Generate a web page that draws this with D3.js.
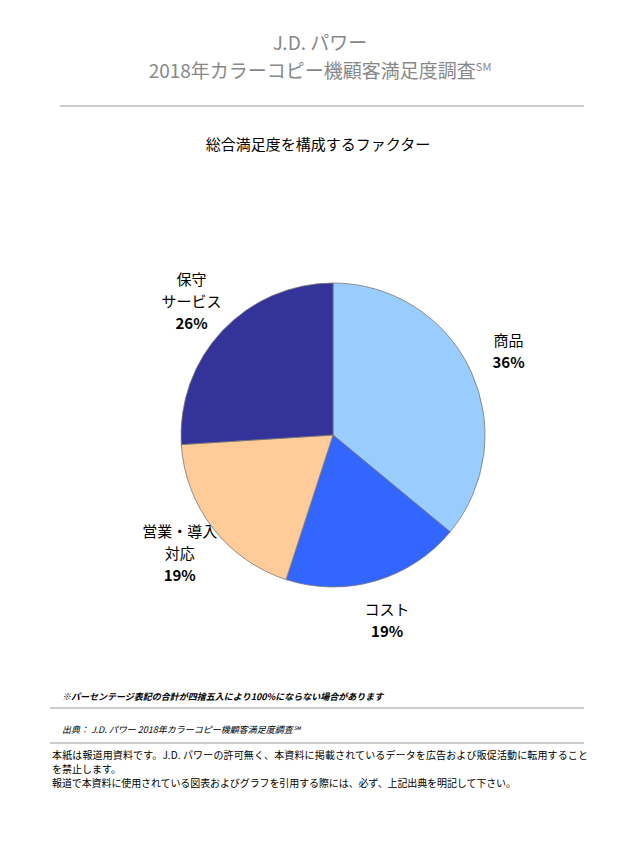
<!DOCTYPE html>
<html><head><meta charset="utf-8">
<script src="https://cdn.jsdelivr.net/npm/d3@7"></script>
<style>body{margin:0;background:#fff}</style>
</head><body>
<svg id="c" width="640" height="853"></svg>
<script>
const factors = ["商品", "コスト", "営業・導入対応", "保守サービス"];
const shares = [36, 19, 19, 26];
const colors = ["#99ccff", "#3366ff", "#ffcc99", "#333399"];
const labelLines = [["商品"], ["コスト"], ["営業・導入", "対応"], ["保守", "サービス"]];

const svg = d3.select("#c");
const font = "'Noto Sans CJK JP', sans-serif";

// タイトル
svg.append("text").attr("x", 320).attr("y", 50).attr("text-anchor", "middle")
  .attr("fill", "#888").style("font-family", font).style("font-size", "19px").text("J.D. パワー");
const t2 = svg.append("text").attr("x", 320).attr("y", 78).attr("text-anchor", "middle")
  .attr("fill", "#888").style("font-family", font).style("font-size", "19px");
t2.append("tspan").text("2018年カラーコピー機顧客満足度調査");
t2.append("tspan").attr("dy", -7).style("font-size", "11px").text("SM");

svg.append("line").attr("x1", 60).attr("x2", 584).attr("y1", 106).attr("y2", 106)
  .attr("stroke", "#bbb").attr("stroke-width", 1.5);

svg.append("text").attr("x", 318).attr("y", 150).attr("text-anchor", "middle")
  .style("font-family", font).style("font-size", "15px").text("総合満足度を構成するファクター");

// 円グラフ
const cx = 333, cy = 435, r = 152;
const pie = d3.pie().sort(null).value((d) => d)(shares);
const arc = d3.arc().innerRadius(0).outerRadius(r);
const g = svg.append("g").attr("transform", `translate(${cx},${cy})`);
g.selectAll("path").data(pie).enter().append("path")
  .attr("d", arc).attr("fill", (d, i) => colors[i])
  .attr("stroke", "#777").attr("stroke-width", 0.8);

const labelArc = d3.arc().innerRadius(r + 42).outerRadius(r + 42);
pie.forEach((d, i) => {
  const [x, y] = labelArc.centroid(d);
  const lines = labelLines[i];
  const n = lines.length + 1;
  const t = g.append("text").attr("text-anchor", "middle")
    .style("font-family", font).style("font-size", "15px");
  lines.forEach((l, j) => {
    t.append("tspan").attr("x", x).attr("y", y + (j - (n - 1) / 2) * 22 + 5).text(l);
  });
  t.append("tspan").attr("x", x).attr("y", y + (lines.length - (n - 1) / 2) * 22 + 5)
    .style("font-weight", "bold").text(shares[i] + "%");
});

// 注記
svg.append("text").attr("x", 62).attr("y", 700).style("font-family", font)
  .style("font-size", "9px").style("font-style", "italic").style("font-weight", "bold")
  .text("※パーセンテージ表記の合計が四捨五入により100%にならない場合があります");
svg.append("line").attr("x1", 50).attr("x2", 584).attr("y1", 708).attr("y2", 708).attr("stroke", "#999");
svg.append("text").attr("x", 62).attr("y", 733).style("font-family", font)
  .style("font-size", "9px").style("font-style", "italic")
  .text("出典： J.D. パワー 2018年カラーコピー機顧客満足度調査℠");
svg.append("line").attr("x1", 50).attr("x2", 584).attr("y1", 743).attr("y2", 743).attr("stroke", "#999");
const notes = [
  "本紙は報道用資料です。J.D. パワーの許可無く、本資料に掲載されているデータを広告および販促活動に転用すること",
  "を禁止します。",
  "報道で本資料に使用されている図表およびグラフを引用する際には、必ず、上記出典を明記して下さい。"
];
notes.forEach((s, i) => {
  svg.append("text").attr("x", 52).attr("y", 759 + i * 14).style("font-family", font)
    .style("font-size", "10px").attr("textLength", i === 1 ? null : (i === 0 ? 536 : 464))
    .text(s);
});
</script>
</body></html>
